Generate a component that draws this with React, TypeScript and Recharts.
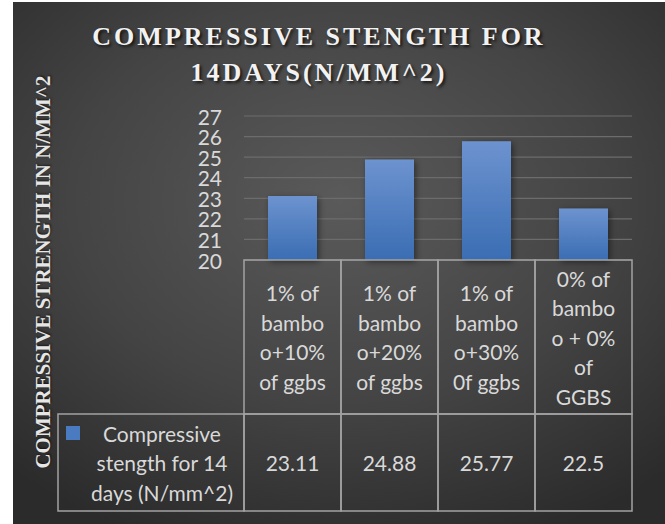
import React from 'react';
import { BarChart, Bar, XAxis, YAxis, CartesianGrid } from 'recharts';

// chart values
const categories = ['1% of bamboo+10% of ggbs', '1% of bamboo+20% of ggbs', '1% of bamboo+30% 0f ggbs', '0% of bamboo + 0% of GGBS'];
const categoryLines = [
  ['1% of', 'bambo', 'o+10%', 'of ggbs'],
  ['1% of', 'bambo', 'o+20%', 'of ggbs'],
  ['1% of', 'bambo', 'o+30%', '0f ggbs'],
  ['0% of', 'bambo', 'o + 0%', 'of', 'GGBS'],
];
const strength14 = [23.11, 24.88, 25.77, 22.5];
const yTicks = [20, 21, 22, 23, 24, 25, 26, 27];
const seriesName = ['Compressive', 'stength for 14', 'days (N/mm^2)'];

const data = categories.map((c, i) => ({ name: c, value: strength14[i], idx: i }));

const FONT = 'Lato, "Open Sans", sans-serif';
const TXT = '#d9d9d9';
const BORDER = '#a3a3a3';
const COL_W = 97;
const HEAD_H = 154;
const ROW_H = 97;
const LINE_H = 29.5;
const LEGEND_LEFT = 45;

const TableTick = (props: any) => {
  const { x, y, payload, index } = props;
  const i = index ?? 0;
  const lines = categoryLines[i];
  const left = x - COL_W / 2;
  const headMid = y + HEAD_H / 2;
  const rowMid = y + HEAD_H + ROW_H / 2;
  return (
    <g>
      <rect x={left} y={y} width={COL_W} height={HEAD_H} fill="none" stroke={BORDER} strokeWidth={1.5} />
      <rect x={left} y={y + HEAD_H} width={COL_W} height={ROW_H} fill="none" stroke={BORDER} strokeWidth={1.5} />
      {lines.map((l, k) => (
        <text key={k} x={x} y={headMid + (k - (lines.length - 1) / 2) * LINE_H} textAnchor="middle"
          dominantBaseline="central" fill={TXT} fontSize={21} fontFamily={FONT}>{l}</text>
      ))}
      <text x={x} y={rowMid} textAnchor="middle" dominantBaseline="central" fill={TXT} fontSize={21} fontFamily={FONT}>
        {strength14[i]}
      </text>
      {i === 0 && (
        <g>
          <rect x={LEGEND_LEFT} y={y + HEAD_H} width={left - LEGEND_LEFT} height={ROW_H} fill="none" stroke={BORDER} strokeWidth={1.5} />
          <rect x={LEGEND_LEFT + 8} y={y + HEAD_H + 12} width={14} height={14} fill="#4a7bc0" />
          {seriesName.map((s, k) => (
            <text key={k} x={(LEGEND_LEFT + 22 + left) / 2} y={rowMid + (k - 1) * LINE_H} textAnchor="middle"
              dominantBaseline="central" fill={TXT} fontSize={21} fontFamily={FONT}>{s}</text>
          ))}
        </g>
      )}
      <title>{payload.value}</title>
    </g>
  );
};

const YTick = (props: any) => {
  const { x, y, payload } = props;
  return (
    <text x={x} y={y} textAnchor="end" dominantBaseline="central" fill={TXT} fontSize={21} fontFamily={FONT}>
      {payload.value}
    </text>
  );
};

export default function App() {
  return (
    <div style={{ position: 'absolute', left: 0, top: 0, width: 665, height: 524, background: '#fff', overflow: 'hidden' }}>
      <div style={{
        position: 'absolute', left: 13, top: 2, width: 652, height: 522,
        background: 'radial-gradient(ellipse 75% 70% at 50% 38%, #5a5a5a 0%, #444 55%, #2b2b2b 100%)',
      }}>
        <BarChart width={652} height={522} data={data} margin={{ top: 114, right: 33, left: 0, bottom: 10 }}>
          <defs>
            <linearGradient id="barGrad" x1="0" y1="0" x2="0" y2="1">
              <stop offset="0%" stopColor="#6d93cf" />
              <stop offset="100%" stopColor="#3a6db3" />
            </linearGradient>
            <filter id="barShadow" x="-30%" y="-10%" width="160%" height="130%">
              <feDropShadow dx="2" dy="2" stdDeviation="3" floodColor="#000" floodOpacity="0.45" />
            </filter>
          </defs>
          <CartesianGrid vertical={false} stroke="#6c6c6c" strokeWidth={1.2} />
          <XAxis dataKey="name" height={254} axisLine={false} tickLine={false} tickSize={0} tickMargin={0}
            interval={0} tick={<TableTick />} />
          <YAxis width={231} domain={[20, 27]} ticks={yTicks} axisLine={false} tickLine={false} tickSize={0}
            tickMargin={22} interval={0} tick={<YTick />} />
          <Bar dataKey="value" barSize={49} fill="url(#barGrad)" isAnimationActive={false}
            style={{ filter: 'url(#barShadow)' }} />
        </BarChart>
        <div style={{
          position: 'absolute', left: 0, top: 17, width: 612, textAlign: 'center',
          fontFamily: '"Liberation Serif", "Times New Roman", serif', fontWeight: 'bold', fontSize: 26,
          letterSpacing: 3, lineHeight: '36px', color: '#f2f2f2', textShadow: '2px 2px 3px rgba(0,0,0,0.7)',
          pointerEvents: 'none',
        }}>
          COMPRESSIVE STENGTH FOR<br />14DAYS(N/MM^2)
        </div>
        <div style={{
          position: 'absolute', left: 30, top: 270, width: 0, height: 0, pointerEvents: 'none',
        }}>
          <div style={{
            position: 'absolute', left: 0, top: 0, transform: 'translate(-50%, -50%) rotate(-90deg)',
            whiteSpace: 'nowrap', fontFamily: '"Liberation Serif", "Times New Roman", serif', fontWeight: 'bold',
            fontSize: 21, color: '#e6e6e6', textShadow: '1px 1px 2px rgba(0,0,0,0.6)',
          }}>
            COMPRESSIVE STRENGTH IN N/MM^2
          </div>
        </div>
      </div>
    </div>
  );
}
